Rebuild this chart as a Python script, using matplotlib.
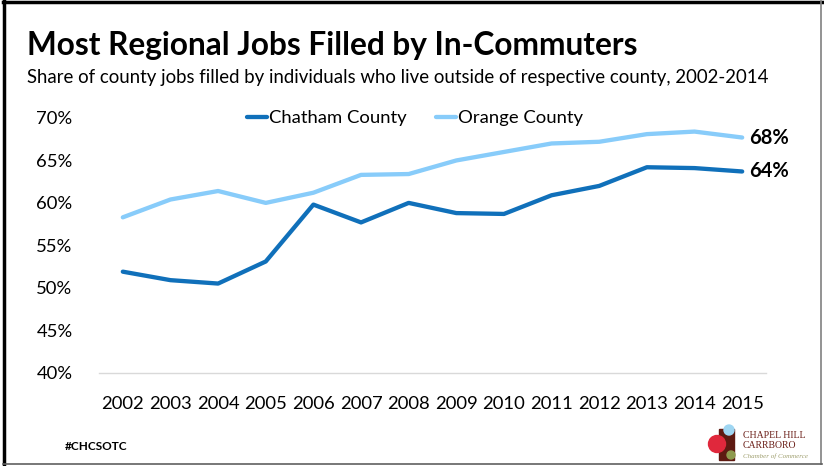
import matplotlib.pyplot as plt
from matplotlib.patches import Rectangle, Circle
from matplotlib.ticker import FuncFormatter

# Datos
anios = list(range(2002, 2016))
chatham = [51.9, 50.9, 50.5, 53.1, 59.8, 57.7, 60.0, 58.8, 58.7, 60.9, 62.0, 64.2, 64.1, 63.7]
orange = [58.3, 60.4, 61.4, 60.0, 61.2, 63.3, 63.4, 65.0, 66.0, 67.0, 67.2, 68.1, 68.4, 67.7]
etiquetas_fin = ['64%', '68%']

azul_osc = '#1070BA'
azul_cla = '#88CCFA'
W, H = 824, 466

plt.rcParams['font.family'] = ['Lato', 'DejaVu Sans']

fig = plt.figure(figsize=(W / 100, H / 100), dpi=100)

# Capa de fondo en pixeles para marco, titulos y logo
bg = fig.add_axes([0, 0, 1, 1], zorder=0)
bg.set_xlim(0, W)
bg.set_ylim(H, 0)
bg.axis('off')
bg.plot([4, 4], [1, 464], color='black', lw=2.5)
bg.plot([3, 822], [2, 2], color='black', lw=2.5)
bg.plot([821, 821], [1, 464], color='#808080', lw=1.2)
bg.plot([3, 822], [463.5, 463.5], color='#606060', lw=1.2)

bg.text(27, 46, 'Most Regional Jobs Filled by In-Commuters', fontsize=22.8,
        fontweight='bold', va='center', ha='left')
bg.text(27, 78, 'Share of county jobs filled by individuals who live outside of respective county, 2002-2014',
        fontsize=13.4, va='center', ha='left')
bg.text(65, 446, '#CHCSOTC', fontsize=8.5, fontweight='bold', va='center', ha='left')

# Logo aproximado
bg.add_patch(Rectangle((719, 429), 15, 31, color='#5E1A12'))
bg.add_patch(Circle((717, 444), 8.5, color='#E0283C'))
bg.add_patch(Circle((729, 430), 5, color='#9FD6F2'))
bg.add_patch(Circle((731, 455), 4, color='#8E9A4E'))
bg.text(743, 435, 'CHAPEL HILL', fontsize=7, family='Liberation Serif', color='#6B1F18', va='center')
bg.text(743, 445, 'CARRBORO', fontsize=7, family='Liberation Serif', color='#6B1F18', va='center')
bg.text(743, 456, 'Chamber of Commerce', fontsize=5, family='Liberation Serif', style='italic',
        color='#A0A070', va='center')

# Grafico principal
ax = fig.add_axes([99 / W, 1 - 372.7 / H, (766 - 99) / W, (372.7 - 118) / H], zorder=1)
ax.patch.set_alpha(0)
ax.plot(anios, chatham, color=azul_osc, lw=3.1, label='Chatham County', solid_capstyle='round')
ax.plot(anios, orange, color=azul_cla, lw=3.1, label='Orange County', solid_capstyle='round')

ax.set_xlim(2001.5, 2015.5)
ax.set_ylim(40, 70)
ax.set_xticks(anios)
ax.set_yticks(range(40, 71, 5))
ax.yaxis.set_major_formatter(FuncFormatter(lambda v, p: f'{v:.0f}%'))
ax.tick_params(length=0, labelsize=13.3)
ax.tick_params(axis='x', pad=17)
ax.tick_params(axis='y', pad=19)
for s in ['top', 'right', 'left']:
    ax.spines[s].set_visible(False)
ax.spines['bottom'].set_color('#D9D9D9')
ax.spines['bottom'].set_linewidth(1)

for serie, txt in zip([chatham, orange], etiquetas_fin):
    ax.annotate(txt, (anios[-1], serie[-1]), xytext=(5, 0), textcoords='offset points',
                fontsize=14.5, fontweight='bold', va='center', ha='left', annotation_clip=False)

ax.legend(loc='center', bbox_to_anchor=(415 / W, 1 - 118 / H), bbox_transform=fig.transFigure,
          ncol=2, frameon=False, fontsize=13.3, handlelength=1.1, handletextpad=0.1,
          columnspacing=1.6)

fig.savefig('out.png', dpi=100)
